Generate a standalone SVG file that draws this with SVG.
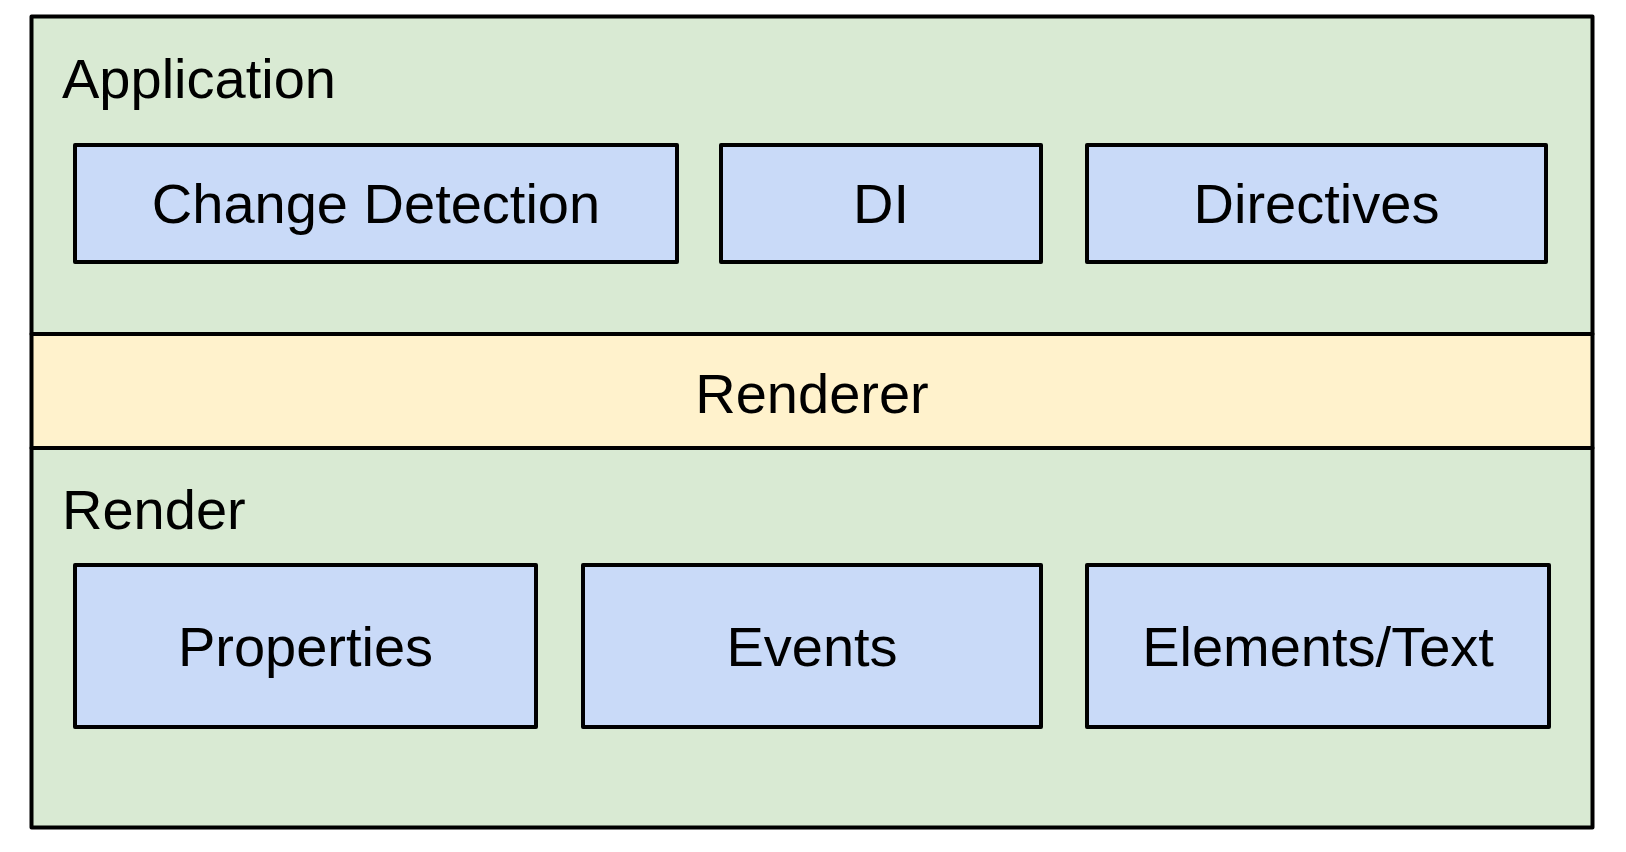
<svg xmlns="http://www.w3.org/2000/svg" width="1626" height="852" viewBox="0 0 1626 852">
<style>
.layer{fill:#d9ead3;stroke:#000;stroke-width:4;stroke-linejoin:round}
.band{fill:#fff2cc;stroke:#000;stroke-width:4;stroke-linejoin:round}
.box{fill:#c9daf8;stroke:#000;stroke-width:4;stroke-linejoin:round}
text{font-family:"Liberation Sans",Arial,sans-serif;font-size:56px;fill:#000}
.c{text-anchor:middle}
</style>
<rect width="1626" height="852" fill="#fff"/>
<g id="application">
<rect class="layer" x="31.5" y="16.5" width="1561" height="317.5"/>
<text x="62" y="98">Application</text>
</g>
<g id="render">
<rect class="layer" x="31.5" y="448" width="1561" height="379.5"/>
<text x="62" y="529">Render</text>
</g>
<g id="renderer">
<rect class="band" x="31.5" y="334" width="1561" height="114"/>
<text class="c" x="812" y="413">Renderer</text>
</g>
<g id="change-detection">
<rect class="box" x="75" y="145" width="602" height="117"/>
<text class="c" x="376" y="223">Change Detection</text>
</g>
<g id="di">
<rect class="box" x="721" y="145" width="320" height="117"/>
<text class="c" x="881" y="223">DI</text>
</g>
<g id="directives">
<rect class="box" x="1087" y="145" width="459" height="117"/>
<text class="c" x="1316.5" y="223">Directives</text>
</g>
<g id="properties">
<rect class="box" x="75" y="565" width="461" height="162"/>
<text class="c" x="305.5" y="666">Properties</text>
</g>
<g id="events">
<rect class="box" x="583" y="565" width="458" height="162"/>
<text class="c" x="812" y="666">Events</text>
</g>
<g id="elements-text">
<rect class="box" x="1087" y="565" width="462" height="162"/>
<text class="c" x="1318" y="666">Elements/Text</text>
</g>
<g id="connectors"></g>
</svg>
